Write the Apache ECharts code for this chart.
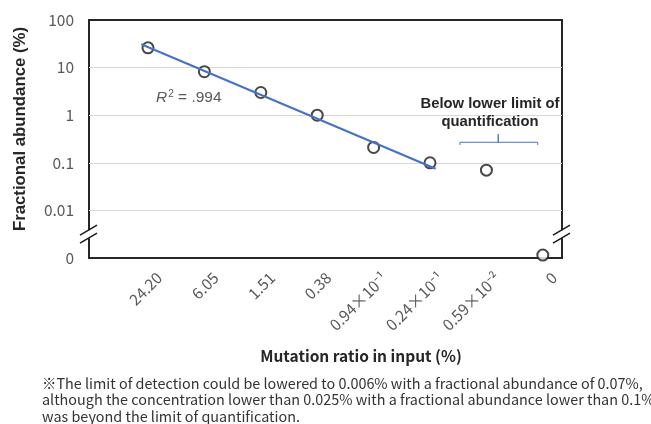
<!DOCTYPE html>
<html><head><meta charset="utf-8">
<script src="https://cdn.jsdelivr.net/npm/echarts@6/dist/echarts.min.js"></script>
<style>html,body{margin:0;padding:0;background:#fff}#c{width:651px;height:424px}</style>
</head><body><div id="c"></div>
<script>
// ---- data ----
const categories = ['24.20', '6.05', '1.51', '0.38', '0.94×10⁻¹', '0.24×10⁻¹', '0.59×10⁻²', '0'];
const abundance = [26, 8.2, 3.0, 1.0, 0.21, 0.10, 0.07, 0];
const zeroDisplay = 0.00115;            // where the "0" value sits on the broken log axis
const yTickValues = [0.001, 0.01, 0.1, 1, 10, 100];
const yTickLabels = ['0', '0.01', '0.1', '1', '10', '100'];
const trendX = [-0.12, 5.10];
const trendY = [31, 0.075];
const bracketX = [5.53, 5.53, 6.21, 6.21, 6.21, 6.91, 6.91];
const bracketY = [0.237, 0.27, 0.27, 0.40, 0.27, 0.27, 0.237];
const footnoteLines = [
  '※The limit of detection could be lowered to 0.006% with a fractional abundance of 0.07%,',
  'although the concentration lower than 0.025% with a fractional abundance lower than 0.1%',
  'was beyond the limit of quantification.'
];

const chart = echarts.init(document.getElementById('c'), null, {renderer: 'canvas'});
const JP = '"Noto Sans CJK JP", "Noto Sans", sans-serif';
const AR = '"Liberation Sans", Arial, sans-serif';
const labelShift = 0.2;

chart.setOption({
  animation: false,
  backgroundColor: '#fff',
  grid: {left: 89, right: 89, top: 20, bottom: 166, show: true, borderColor: '#262626', borderWidth: 2, backgroundColor: 'transparent'},
  xAxis: {
    type: 'value', min: -1.046, max: 7.34,
    axisLine: {show: false}, axisTick: {show: false}, splitLine: {show: false},
    axisLabel: {
      customValues: categories.map((_, i) => i + labelShift),
      formatter: v => categories[Math.round(v - labelShift)],
      rotate: 45, fontSize: 15.5, color: '#595959', fontFamily: JP, margin: 17
    }
  },
  yAxis: {
    type: 'log', logBase: 10, min: 0.001, max: 100,
    axisLine: {show: false}, axisTick: {show: false},
    splitLine: {show: true, showMinLine: false, showMaxLine: false, lineStyle: {color: '#d9d9d9', width: 1}},
    axisLabel: {
      fontSize: 15.5, color: '#595959', fontFamily: JP, margin: 15,
      formatter: v => {
        const i = yTickValues.findIndex(t => Math.abs(Math.log10(t) - Math.log10(v)) < 1e-6);
        return i >= 0 ? yTickLabels[i] : '';
      }
    }
  },
  series: [
    {
      type: 'scatter', symbol: 'emptyCircle', symbolSize: 11, z: 3,
      itemStyle: {color: '#1a1a1a', borderColor: '#1a1a1a', borderWidth: 1.5},
      data: abundance.map((v, i) => [i, v > 0 ? v : zeroDisplay])
    },
    {
      type: 'line', showSymbol: false, symbol: 'none', z: 4,
      lineStyle: {color: '#4472C4', width: 2},
      data: trendX.map((x, i) => [x, trendY[i]])
    },
    {
      type: 'line', showSymbol: false, symbol: 'none', z: 4,
      lineStyle: {color: '#4472C4', width: 1},
      data: bracketX.map((x, i) => [x, bracketY[i]])
    }
  ]
});

// axis-break marks and annotations
const breakVal = Math.sqrt(0.01 * 0.001);
const pL = chart.convertToPixel({gridIndex: 0}, [-1.046, breakVal]);
const pR = chart.convertToPixel({gridIndex: 0}, [7.34, breakVal]);
function breakMark(x, y) {
  const els = [{type: 'rect', shape: {x: x - 3, y: y - 4, width: 6, height: 8}, style: {fill: '#fff'}, z: 10}];
  [-4, 4].forEach(d => els.push({
    type: 'line', z: 11,
    shape: {x1: x - 9, y1: y + d + 5, x2: x + 8, y2: y + d - 5},
    style: {stroke: '#1a1a1a', lineWidth: 1.5}
  }));
  return els;
}
const graphics = [].concat(breakMark(pL[0], pL[1]), breakMark(pR[0], pR[1]));
graphics.push({
  type: 'text', left: 156, top: 89, z: 12,
  style: {
    text: '{i|R}{s|2}{n| = .994}',
    rich: {
      i: {fontStyle: 'italic', fontSize: 15.5, fill: '#595959', fontFamily: AR},
      s: {fontSize: 10, fill: '#595959', fontFamily: AR, verticalAlign: 'top', padding: [0, 0, 8, 1]},
      n: {fontSize: 15.5, fill: '#595959', fontFamily: AR}
    }
  }
});
graphics.push({
  type: 'text', x: 490, y: 113, z: 12,
  style: {text: 'Below lower limit of\nquantification', textAlign: 'center', textVerticalAlign: 'middle',
    font: 'bold 14.8px ' + AR, fill: '#262626', lineHeight: 18}
});
graphics.push({
  type: 'text', x: 361, y: 356, z: 12,
  style: {text: 'Mutation ratio in input (%)', textAlign: 'center', textVerticalAlign: 'middle',
    font: 'bold 15.5px ' + JP, fill: '#262626'}
});
graphics.push({
  type: 'text', x: 20, y: 129, rotation: Math.PI / 2, z: 12,
  style: {text: 'Fractional abundance (%)', textAlign: 'center', textVerticalAlign: 'middle',
    font: 'bold 16.8px ' + AR, fill: '#262626'}
});
graphics.push({
  type: 'text', x: 42, y: 375, z: 12,
  style: {text: footnoteLines.join('\n'), font: '14.4px ' + JP, fill: '#333', lineHeight: 16.5}
});
chart.setOption({graphic: graphics});
</script>
</body></html>
